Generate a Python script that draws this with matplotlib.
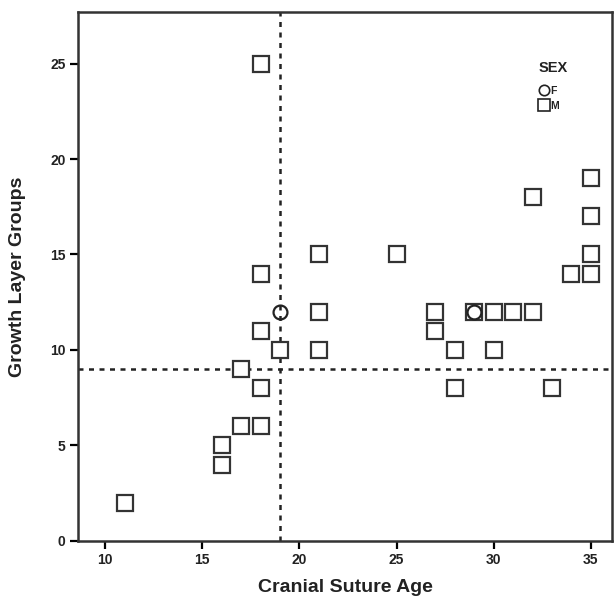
import numpy as np
import matplotlib.pyplot as plt
from matplotlib.lines import Line2D

plt.rcParams['font.family'] = ['Liberation Sans', 'DejaVu Sans']

# male (squares)
m_age = [11, 16, 16, 17, 17, 18, 18, 18, 18, 18, 19, 21, 21, 21, 25, 27, 27,
         28, 28, 29, 30, 30, 31, 32, 32, 33, 34, 35, 35, 35, 35]
m_glg = [2, 4, 5, 6, 9, 6, 8, 11, 14, 25, 10, 10, 12, 15, 15, 11, 12,
         8, 10, 12, 10, 12, 12, 12, 18, 8, 14, 14, 15, 17, 19]
# female (circles)
f_age = [19, 29]
f_glg = [12, 12]

cut_age = 19
cut_glg = 9

fig = plt.figure(figsize=(6.14, 5.99), dpi=100)
ax = fig.add_axes([0.127, 0.097, 0.870, 0.883])

ax.axvline(cut_age, color='#222222', ls=(0, (2, 2.2)), lw=1.8, zorder=1)
ax.axhline(cut_glg, color='#222222', ls=(0, (2, 2.2)), lw=1.8, zorder=1)

ax.plot(m_age, m_glg, 's', ms=11, mfc='white', mec='#333333', mew=1.6, zorder=3)
ax.plot(f_age, f_glg, 'o', ms=10, mfc='none', mec='#222222', mew=1.6, zorder=4)

ax.set_xlim(8.6, 36.1)
ax.set_ylim(0, 27.7)
ax.set_xticks([10, 15, 20, 25, 30, 35])
ax.set_yticks([0, 5, 10, 15, 20, 25])
ax.tick_params(direction='out', length=6, width=1.6, labelsize=10, pad=3,
               labelcolor='#222222')
for lab in ax.get_xticklabels() + ax.get_yticklabels():
    lab.set_fontweight('bold')
for s in ax.spines.values():
    s.set_linewidth(1.8)
    s.set_color('#333333')

ax.set_xlabel('Cranial Suture Age', fontsize=14, fontweight='bold', labelpad=8,
              color='#222222')
ax.set_ylabel('Growth Layer Groups', fontsize=14, fontweight='bold', labelpad=17,
              color='#222222')

# legend: title as separate text, entries below it
ax.text(0.862, 0.894, 'SEX', transform=ax.transAxes, fontsize=10.5,
        fontweight='bold', color='#222222', ha='left', va='center')
handles = [Line2D([], [], marker='o', ls='', ms=7.5, mfc='none', mec='#222222', mew=1.2),
           Line2D([], [], marker='s', ls='', ms=8, mfc='none', mec='#222222', mew=1.2)]
leg = ax.legend(handles, ['F', 'M'], loc='upper left',
                bbox_to_anchor=(0.862, 0.86), frameon=False, handlelength=1.0,
                handleheight=1.0, handletextpad=0.1, labelspacing=0.45,
                fontsize=7.5, borderpad=0, borderaxespad=0)
for t in leg.get_texts():
    t.set_fontweight('bold')
    t.set_color('#222222')

fig.savefig('out.png', dpi=100)
